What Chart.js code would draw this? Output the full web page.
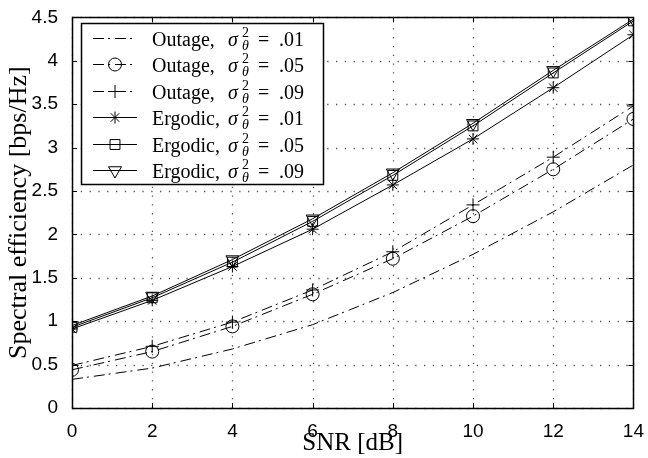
<!DOCTYPE html>
<html>
<head>
<meta charset="utf-8">
<script src="https://cdn.jsdelivr.net/npm/chart.js@4.4.0/dist/chart.umd.min.js"></script>
<style>
  html, body { margin: 0; padding: 0; background: #fff; }
</style>
</head>
<body>
<canvas id="chart" width="648" height="458"></canvas>
<script>
// values
var snr = [0, 2, 4, 6, 8, 10, 12, 14];
var outage01 = [0.33, 0.46, 0.68, 0.96, 1.33, 1.77, 2.26, 2.80];
var outage05 = [0.44, 0.65, 0.94, 1.31, 1.72, 2.21, 2.75, 3.33];
var outage09 = [0.49, 0.71, 0.99, 1.36, 1.80, 2.34, 2.89, 3.48];
var ergodic01 = [0.91, 1.24, 1.63, 2.06, 2.57, 3.10, 3.69, 4.30];
var ergodic05 = [0.93, 1.27, 1.68, 2.15, 2.68, 3.25, 3.86, 4.46];
var ergodic09 = [0.95, 1.29, 1.71, 2.18, 2.71, 3.28, 3.89, 4.48];

var seriesKind = ['Outage', 'Outage', 'Outage', 'Ergodic', 'Ergodic', 'Ergodic'];
var seriesVar = ['.01', '.05', '.09', '.01', '.05', '.09'];

function pts(ys) {
  return snr.map(function (x, i) { return { x: x, y: ys[i] }; });
}

var dashDot = [11, 4, 2, 5];

function ds(ys, style, r, dash, rot) {
  return {
    label: '',
    data: pts(ys),
    borderColor: '#000',
    borderWidth: 1,
    borderDash: dash,
    pointStyle: style,
    pointRadius: r,
    pointRotation: rot || 0,
    pointBorderColor: '#000',
    pointBackgroundColor: 'rgba(0,0,0,0)',
    pointBorderWidth: 1,
    tension: 0,
    fill: false
  };
}

var datasets = [
  ds(outage01, 'circle', 0, dashDot),
  ds(outage05, 'circle', 6.5, dashDot),
  ds(outage09, 'cross', 6.5, dashDot),
  ds(ergodic01, 'star', 6, []),
  ds(ergodic05, 'rect', 7, []),
  ds(ergodic09, 'triangle', 7.5, [], 180)
];
datasets.forEach(function (d, i) { d.label = seriesKind[i] + ', σθ² = ' + seriesVar[i]; });

function drawMarker(ctx, style, x, y, r, rot) {
  if (!r) return;
  ctx.beginPath();
  if (style === 'circle') {
    ctx.arc(x, y, r, 0, Math.PI * 2);
  } else if (style === 'cross') {
    ctx.moveTo(x - r, y); ctx.lineTo(x + r, y);
    ctx.moveTo(x, y - r); ctx.lineTo(x, y + r);
  } else if (style === 'star') {
    ctx.moveTo(x - r, y); ctx.lineTo(x + r, y);
    ctx.moveTo(x, y - r); ctx.lineTo(x, y + r);
    var d = r * Math.SQRT1_2;
    ctx.moveTo(x - d, y - d); ctx.lineTo(x + d, y + d);
    ctx.moveTo(x - d, y + d); ctx.lineTo(x + d, y - d);
  } else if (style === 'rect') {
    var s = r * Math.SQRT1_2;
    ctx.rect(x - s, y - s, 2 * s, 2 * s);
  } else if (style === 'triangle') {
    var a = (rot || 0) * Math.PI / 180;
    ctx.moveTo(x + Math.sin(a) * r, y - Math.cos(a) * r);
    a += 2 * Math.PI / 3;
    ctx.lineTo(x + Math.sin(a) * r, y - Math.cos(a) * r);
    a += 2 * Math.PI / 3;
    ctx.lineTo(x + Math.sin(a) * r, y - Math.cos(a) * r);
    ctx.closePath();
  }
  ctx.stroke();
}

// dotted grid under the lines, then black box with inward ticks (matlab look)
var framePlugin = {
  id: 'frame',
  beforeDatasetsDraw: function (chart) {
    var ctx = chart.ctx, a = chart.chartArea;
    var xs = chart.scales.x, ys = chart.scales.y;
    ctx.save();
    ctx.strokeStyle = '#555';
    ctx.lineWidth = 1.3;
    ctx.setLineDash([1.3, 7.5]);
    ctx.beginPath();
    xs.ticks.forEach(function (t) {
      var px = Math.round(xs.getPixelForValue(t.value)) + 0.5;
      ctx.moveTo(px, a.bottom); ctx.lineTo(px, a.top);
    });
    ys.ticks.forEach(function (t) {
      var py = Math.round(ys.getPixelForValue(t.value)) + 0.5;
      ctx.moveTo(a.left, py); ctx.lineTo(a.right, py);
    });
    ctx.stroke();
    ctx.restore();
  },
  afterDatasetsDraw: function (chart) {
    var ctx = chart.ctx, a = chart.chartArea;
    var xs = chart.scales.x, ys = chart.scales.y;
    ctx.save();
    ctx.strokeStyle = '#000';
    ctx.lineWidth = 1.5;
    ctx.setLineDash([]);
    ctx.strokeRect(Math.round(a.left) + 0.5, Math.round(a.top) + 0.5,
      Math.round(a.right - a.left), Math.round(a.bottom - a.top));
    ctx.lineWidth = 1;
    ctx.beginPath();
    xs.ticks.forEach(function (t) {
      var px = Math.round(xs.getPixelForValue(t.value)) + 0.5;
      ctx.moveTo(px, a.bottom); ctx.lineTo(px, a.bottom - 5);
      ctx.moveTo(px, a.top); ctx.lineTo(px, a.top + 5);
    });
    ys.ticks.forEach(function (t) {
      var py = Math.round(ys.getPixelForValue(t.value)) + 0.5;
      ctx.moveTo(a.left, py); ctx.lineTo(a.left + 5, py);
      ctx.moveTo(a.right, py); ctx.lineTo(a.right - 5, py);
    });
    ctx.stroke();
    ctx.restore();
  }
};

var legendPlugin = {
  id: 'boxLegend',
  afterDraw: function (chart) {
    var ctx = chart.ctx;
    var x0 = 81, y0 = 23, w = 242, h = 161;
    ctx.save();
    ctx.fillStyle = '#fff';
    ctx.fillRect(x0, y0, w, h);
    ctx.strokeStyle = '#000';
    ctx.lineWidth = 1.5;
    ctx.strokeRect(x0 + 0.5, y0 + 0.5, w, h);
    ctx.lineWidth = 1;
    chart.data.datasets.forEach(function (d, i) {
      var cy = Math.round(38 + i * 26.4) + 0.5;
      ctx.strokeStyle = '#000';
      ctx.setLineDash(d.borderDash || []);
      ctx.beginPath();
      ctx.moveTo(93, cy); ctx.lineTo(137, cy);
      ctx.stroke();
      ctx.setLineDash([]);
      drawMarker(ctx, d.pointStyle, 115, cy, d.pointRadius, d.pointRotation);

      var base = cy + 7;
      ctx.fillStyle = '#000';
      ctx.textBaseline = 'alphabetic';
      ctx.textAlign = 'left';
      ctx.font = '20px "Liberation Serif"';
      ctx.fillText(seriesKind[i] + ',', 152, base);
      ctx.font = 'italic 20px "Liberation Serif"';
      ctx.fillText('σ', 228, base);
      ctx.font = '14px "Liberation Serif"';
      ctx.fillText('2', 242, base - 9);
      ctx.font = 'italic 14px "Liberation Serif"';
      ctx.fillText('θ', 242, base + 4);
      ctx.font = '20px "Liberation Serif"';
      ctx.fillText('=', 258, base);
      ctx.fillText(seriesVar[i], 279, base);
    });
    ctx.restore();
  }
};

new Chart(document.getElementById('chart').getContext('2d'), {
  type: 'line',
  data: { datasets: datasets },
  plugins: [framePlugin, legendPlugin],
  options: {
    responsive: false,
    animation: false,
    layout: { padding: { top: 15, right: 9, left: 0, bottom: 0 } },
    plugins: { legend: { display: false }, tooltip: { enabled: false } },
    scales: {
      x: {
        type: 'linear', min: 0, max: 14,
        ticks: { stepSize: 2, padding: 4, color: '#000', font: { family: '"Liberation Sans"', size: 19 } },
        grid: { display: false },
        border: { display: false },
        title: { display: true, text: 'SNR [dB]', color: '#000', padding: { top: 0, bottom: 0 },
          font: { family: '"Liberation Serif"', size: 25 } },
        afterFit: function (s) { s.height = 50; }
      },
      y: {
        min: 0, max: 4.5,
        ticks: { stepSize: 0.5, padding: 6, color: '#000', font: { family: '"Liberation Sans"', size: 19 },
          callback: function (v) { return String(v); } },
        grid: { display: false },
        border: { display: false },
        title: { display: true, text: 'Spectral efficiency [bps/Hz]', color: '#000', padding: { top: 4, bottom: 0 },
          font: { family: '"Liberation Serif"', size: 26 } },
        afterFit: function (s) { s.width = 72; }
      }
    }
  }
});
</script>
</body>
</html>
